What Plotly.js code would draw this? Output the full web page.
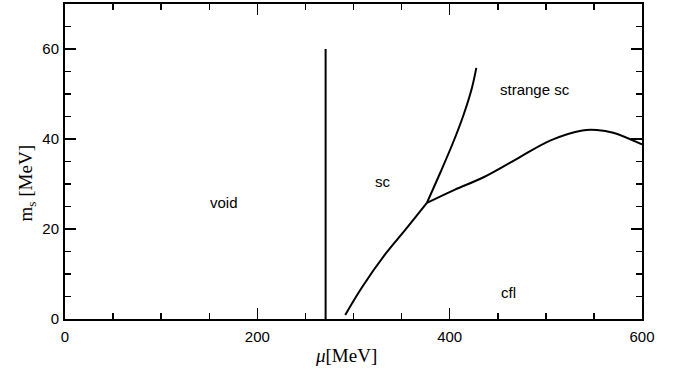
<!DOCTYPE html>
<html><head><meta charset="utf-8">
<script src="https://cdn.plot.ly/plotly-3.0.1.min.js"></script>
<style>html,body{margin:0;padding:0;background:#fff}#plot{width:683px;height:380px}</style>
</head><body><div id="plot"></div>
<script>
// Phase boundaries
const voidLineX = [271, 271];
const voidLineY = [0, 60];
const scLowerX = [291.4, 308.7, 333, 353.8, 376.3];
const scLowerY = [0.9, 7.0, 14.4, 19.8, 25.8];
const scUpperX = [376.3, 390.2, 404.1, 414.5, 423.2, 427.7];
const scUpperY = [25.8, 32.5, 39.5, 45.4, 51.4, 55.8];
const cflBoundaryX = [376.3, 405, 435.3, 470, 505, 538, 553, 570, 600];
const cflBoundaryY = [25.8, 28.7, 31.5, 35.6, 39.7, 41.9, 42.0, 41.4, 38.8];
// Region labels
const regionNames = ["void", "sc", "strange sc", "cfl"];
const regionX = [165, 331, 488.7, 461];
const regionY = [25.8, 30.5, 51.0, 5.9];

const lineStyle = {color: '#000', width: 2};
const curve = (x, y) => ({x: x, y: y, mode: 'lines', line: Object.assign({shape: 'spline', smoothing: 1}, lineStyle), hoverinfo: 'skip'});
const traces = [
  {x: voidLineX, y: voidLineY, mode: 'lines', line: lineStyle, hoverinfo: 'skip'},
  curve(scLowerX, scLowerY),
  curve(scUpperX, scUpperY),
  curve(cflBoundaryX, cflBoundaryY)
];

const sans = 'Liberation Sans, Arial, Helvetica, sans-serif';
const serif = 'Liberation Serif, Times New Roman, serif';
const annotations = regionNames.map((t, i) => ({
  x: regionX[i], y: regionY[i], xref: 'x', yref: 'y', text: t, showarrow: false,
  font: {family: sans, size: 15, color: '#000'}
}));
annotations.push({
  xref: 'paper', yref: 'paper', x: (346 - 65) / 577, y: -0.115, yanchor: 'middle', xanchor: 'center',
  text: '<i>μ</i>[MeV]', showarrow: false, font: {family: serif, size: 19, color: '#000'}
});
annotations.push({
  xref: 'paper', yref: 'paper', x: -0.066, xanchor: 'center', y: 0.43, yanchor: 'middle', textangle: -90,
  text: 'm<sub>s</sub> [MeV]', showarrow: false, font: {family: serif, size: 19, color: '#000'}
});

const axisCommon = {
  showgrid: false, zeroline: false, showline: true, linecolor: '#000', linewidth: 2,
  mirror: 'ticks', ticks: 'inside', ticklen: 11, tickwidth: 1.5, tickcolor: '#000',
  tickfont: {family: sans, size: 15, color: '#000'}
};
const layout = {
  width: 683, height: 380, showlegend: false,
  paper_bgcolor: '#fff', plot_bgcolor: '#fff',
  margin: {l: 65, r: 41, t: 4, b: 61},
  xaxis: Object.assign({}, axisCommon, {
    range: [0, 600], tickvals: [0, 200, 400, 600], ticklabelstandoff: 3,
    minor: {dtick: 50, ticks: 'inside', ticklen: 6, tickwidth: 1.5, tickcolor: '#000', showgrid: false}
  }),
  yaxis: Object.assign({}, axisCommon, {
    range: [0, 70], tickvals: [0, 20, 40, 60], ticklabelstandoff: 1,
    minor: {dtick: 5, ticks: 'inside', ticklen: 6, tickwidth: 1.5, tickcolor: '#000', showgrid: false}
  }),
  annotations: annotations
};
Plotly.newPlot('plot', traces, layout, {staticPlot: true, displayModeBar: false});
</script>
</body></html>
